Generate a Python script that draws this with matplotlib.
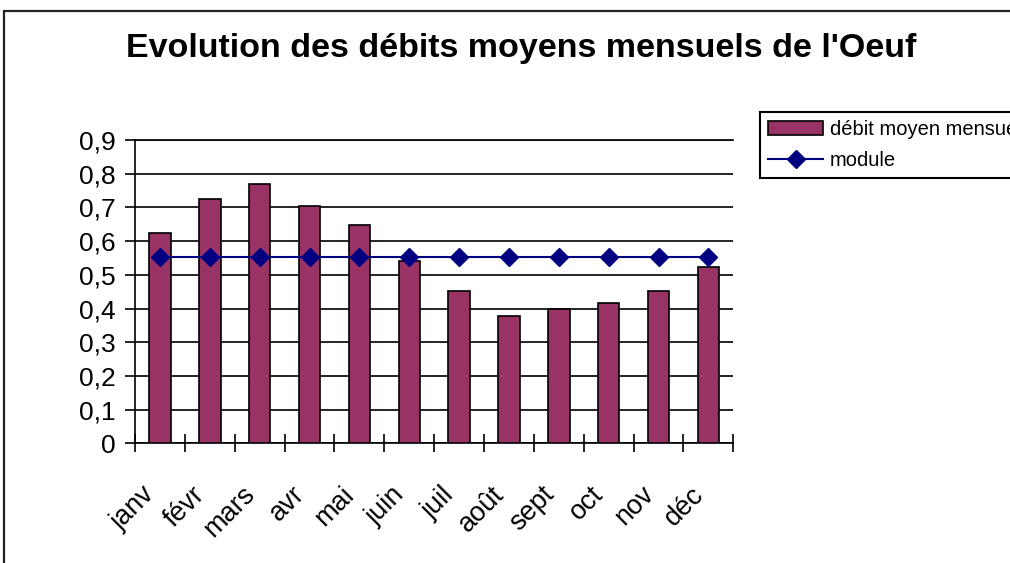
import matplotlib
matplotlib.use("Agg")
import matplotlib.pyplot as plt
from matplotlib.patches import Rectangle
from matplotlib.transforms import ScaledTranslation

plt.rcParams['font.family'] = ['Liberation Sans', 'DejaVu Sans']

months = ["janv", "févr", "mars", "avr", "mai", "juin", "juil", "août", "sept", "oct", "nov", "déc"]
debit = [0.623, 0.724, 0.769, 0.704, 0.649, 0.542, 0.453, 0.378, 0.399, 0.415, 0.453, 0.522]
module = [0.552] * 12
yticks = [0, 0.1, 0.2, 0.3, 0.4, 0.5, 0.6, 0.7, 0.8, 0.9]
ytick_labels = ["0", "0,1", "0,2", "0,3", "0,4", "0,5", "0,6", "0,7", "0,8", "0,9"]
title = "Evolution des débits moyens mensuels de l'Oeuf"

W, H = 1010, 563
fig = plt.figure(figsize=(W / 100, H / 100), dpi=100)

# outer chart frame
fig.patches.append(Rectangle((4 / W, 0 - 0.02), 1.05, 1 - 11 / H + 0.02,
                             transform=fig.transFigure, fill=False,
                             edgecolor="#222222", linewidth=1.6))

ax = fig.add_axes([135 / W, 1 - 443.3 / H, (733.3 - 135) / W, (443.3 - 140) / H])
x = list(range(len(months)))
bars = ax.bar(x, debit, width=0.43, color="#993366", edgecolor="black",
              linewidth=1.2, label="débit moyen mensuel", zorder=3)
line, = ax.plot(x, module, color="#000080", linewidth=1.5, marker="D",
                markersize=9, label="module", zorder=4)

ax.set_xlim(-0.5, len(months) - 0.5)
ax.set_ylim(0, 0.9)
ax.set_yticks(yticks, ytick_labels)
ax.yaxis.grid(True, color="black", linewidth=1.2, zorder=0)
ax.set_axisbelow(True)
ax.spines["right"].set_visible(False)
ax.spines["top"].set_linewidth(1.2)
ax.spines["left"].set_linewidth(1.2)
ax.spines["bottom"].set_linewidth(1.2)
ax.tick_params(axis="y", direction="out", length=7.2, width=1.2, pad=7, labelsize=19)

ax.set_xticks(x, months, rotation=45, ha="right", va="top", rotation_mode="anchor")
ax.set_xticks([i - 0.5 for i in range(len(months) + 1)], minor=True)
ax.tick_params(axis="x", which="major", length=0, pad=27.5, labelsize=19.5)
ax.tick_params(axis="x", which="minor", direction="inout", length=13, width=1.2)
off = ScaledTranslation(-18 / 100, 0, fig.dpi_scale_trans)
for lbl in ax.get_xticklabels():
    lbl.set_transform(lbl.get_transform() + off)

fig.text(521.5 / W, 1 - 48.5 / H, title, ha="center", va="center",
         fontsize=24.5, fontweight="bold")

leg = ax.legend(handles=[bars, line], loc="upper left",
                bbox_to_anchor=(760 / W, 1 - 112 / H), bbox_transform=fig.transFigure,
                borderaxespad=0, fancybox=False, edgecolor="black", framealpha=1,
                fontsize=14.5, handlelength=2.73, handletextpad=0.35,
                labelspacing=0.6, borderpad=0.4)
leg.get_frame().set_linewidth(1.5)

fig.savefig("out.png", dpi=100)
